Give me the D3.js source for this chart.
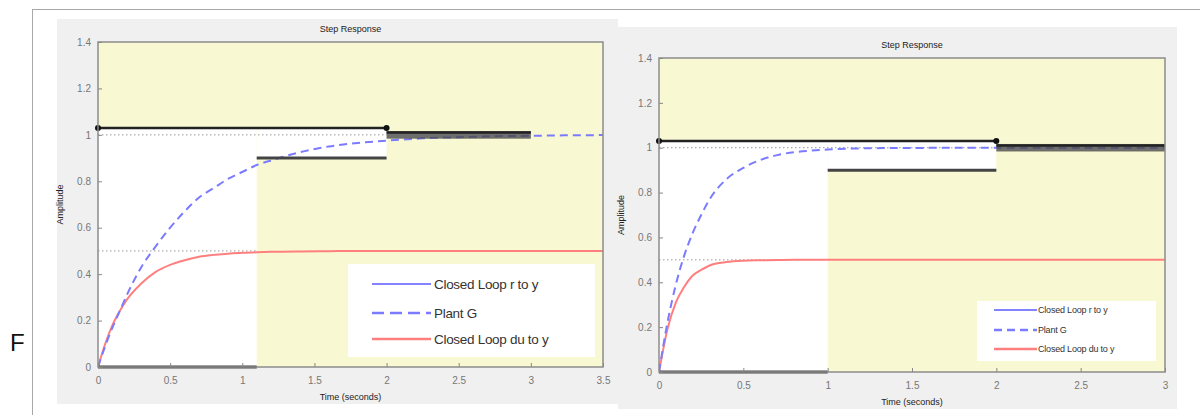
<!DOCTYPE html>
<html>
<head>
<meta charset="utf-8">
<script src="https://cdn.jsdelivr.net/npm/d3@7"></script>
<style>
  body { margin: 0; background: #fff; }
  svg { display: block; font-family: "Liberation Sans", Arial, sans-serif; }
</style>
</head>
<body>
<svg width="1200" height="415"></svg>
<script>
// ---- data ----
const leftTime  = [0, 0.05, 0.1, 0.15, 0.2, 0.3, 0.4, 0.5, 0.6, 0.7, 0.8, 0.9, 1.0, 1.1, 1.2, 1.4, 1.6, 1.8, 2.0, 2.25, 2.5, 2.75, 3.0, 3.25, 3.5];
const leftPlant = [0, 0.09, 0.17, 0.24, 0.31, 0.43, 0.52, 0.60, 0.67, 0.73, 0.77, 0.81, 0.84, 0.87, 0.89, 0.925, 0.95, 0.965, 0.975, 0.985, 0.99, 0.994, 0.996, 0.998, 0.999];
const leftDu    = [0, 0.10, 0.18, 0.24, 0.29, 0.36, 0.41, 0.44, 0.46, 0.475, 0.483, 0.488, 0.492, 0.494, 0.496, 0.498, 0.499, 0.5, 0.5, 0.5, 0.5, 0.5, 0.5, 0.5, 0.5];

const rightTime  = [0, 0.05, 0.1, 0.15, 0.2, 0.25, 0.3, 0.4, 0.5, 0.6, 0.7, 0.8, 0.9, 1.0, 1.2, 1.5, 2.0, 2.5, 3.0];
const rightPlant = [0, 0.22, 0.39, 0.52, 0.62, 0.70, 0.77, 0.86, 0.91, 0.945, 0.967, 0.98, 0.987, 0.992, 0.997, 0.999, 1, 1, 1];
const rightDu    = [0, 0.19, 0.31, 0.38, 0.43, 0.455, 0.475, 0.49, 0.496, 0.498, 0.499, 0.5, 0.5, 0.5, 0.5, 0.5, 0.5, 0.5, 0.5];

// design constraints: [t start, t end, value]
const leftUpper  = [[0, 2, 1.03], [2, 3, 1.01]];
const leftLower  = [[0, 1.1, 0], [1.1, 2, 0.9], [2, 3, 0.99]];
const rightUpper = [[0, 2, 1.03], [2, 3, 1.01]];
const rightLower = [[0, 1, 0], [1, 2, 0.9], [2, 3, 0.99]];

const leftXTicks  = [0, 0.5, 1, 1.5, 2, 2.5, 3, 3.5];
const rightXTicks = [0, 0.5, 1, 1.5, 2, 2.5, 3];
const yTicks = [0, 0.2, 0.4, 0.6, 0.8, 1, 1.2, 1.4];

const legendLabels = ["Closed Loop r to y", "Plant G", "Closed Loop du to y"];

const svg = d3.select("svg");

// outer frame and the stray letter
svg.append("line").attr("x1", 32).attr("x2", 1200).attr("y1", 9.5).attr("y2", 9.5)
    .attr("stroke", "#a8a8a8");
svg.append("line").attr("x1", 32.5).attr("x2", 32.5).attr("y1", 9).attr("y2", 415)
    .attr("stroke", "#a8a8a8");
svg.append("text").attr("x", 10).attr("y", 351).attr("font-size", 24).attr("fill", "#111")
    .attr("font-family", "Liberation Sans, Arial").text("F");

function drawPanel(cfg) {
    const g = svg.append("g");
    g.append("rect").attr("x", cfg.bg[0]).attr("y", cfg.bg[1])
        .attr("width", cfg.bg[2]).attr("height", cfg.bg[3]).attr("fill", "#f0f0f0");

    const x = d3.scaleLinear().domain([0, cfg.xmax]).range([cfg.left, cfg.right]);
    const y = d3.scaleLinear().domain([0, 1.4]).range([cfg.bottom, cfg.top]);

    const clipId = "clip" + cfg.id;
    g.append("clipPath").attr("id", clipId).append("rect")
        .attr("x", cfg.left).attr("y", cfg.top)
        .attr("width", cfg.right - cfg.left).attr("height", cfg.bottom - cfg.top);

    // yellow = forbidden, white = allowed
    g.append("rect").attr("x", cfg.left).attr("y", cfg.top)
        .attr("width", cfg.right - cfg.left).attr("height", cfg.bottom - cfg.top)
        .attr("fill", "#f8f8d2");
    cfg.lower.forEach(function(seg, i) {
        const up = cfg.upper.find(u => seg[0] >= u[0] && seg[0] < u[1]);
        g.append("rect").attr("x", x(seg[0])).attr("width", x(seg[1]) - x(seg[0]))
            .attr("y", y(up[2])).attr("height", y(seg[2]) - y(up[2]))
            .attr("fill", "#fff");
    });

    const plot = g.append("g").attr("clip-path", "url(#" + clipId + ")");

    // dotted steady-state markers
    plot.append("line").attr("x1", x(0)).attr("x2", x(2)).attr("y1", y(1)).attr("y2", y(1))
        .attr("stroke", "#999").attr("stroke-dasharray", "1.5,2.5");
    plot.append("line").attr("x1", x(0)).attr("x2", x(cfg.halfEnd)).attr("y1", y(0.5)).attr("y2", y(0.5))
        .attr("stroke", "#999").attr("stroke-dasharray", "1.5,2.5");

    const line = d3.line().x(d => x(d[0])).y(d => y(d[1])).curve(d3.curveMonotoneX);
    plot.append("path").datum(cfg.time.map((t, i) => [t, cfg.du[i]]))
        .attr("d", line).attr("fill", "none").attr("stroke", "#ff7f7f").attr("stroke-width", 2);
    plot.append("path").datum(cfg.time.map((t, i) => [t, cfg.plant[i]]))
        .attr("d", line).attr("fill", "none").attr("stroke", "#7b7bff")
        .attr("stroke-width", 2).attr("stroke-dasharray", "8,5");

    // constraint edges
    cfg.lower.forEach(function(seg) {
        const up = cfg.upper.find(u => seg[0] >= u[0] && seg[0] < u[1]);
        if (up[2] - seg[2] < 0.05) {
            g.append("rect").attr("x", x(seg[0])).attr("width", x(seg[1]) - x(seg[0]))
                .attr("y", y(up[2]) - 1.5).attr("height", y(seg[2]) - y(up[2]) + 3)
                .attr("fill", "#4a4a4a").attr("opacity", 0.8);
        } else {
            g.append("line").attr("x1", x(seg[0])).attr("x2", x(seg[1]))
                .attr("y1", y(seg[2])).attr("y2", y(seg[2]))
                .attr("stroke", "#444").attr("stroke-width", 3);
        }
    });
    cfg.upper.forEach(function(seg) {
        g.append("line").attr("x1", x(seg[0])).attr("x2", x(seg[1]))
            .attr("y1", y(seg[2])).attr("y2", y(seg[2]))
            .attr("stroke", "#222").attr("stroke-width", 2.5);
    });
    g.selectAll(".vertex" + cfg.id)
        .data([[cfg.upper[0][0], cfg.upper[0][2]], [cfg.upper[0][1], cfg.upper[0][2]]])
        .enter().append("circle").attr("class", "vertex" + cfg.id)
        .attr("cx", d => x(d[0])).attr("cy", d => y(d[1])).attr("r", 3).attr("fill", "#111");

    // axes box
    g.append("rect").attr("x", cfg.left).attr("y", cfg.top)
        .attr("width", cfg.right - cfg.left).attr("height", cfg.bottom - cfg.top)
        .attr("fill", "none").attr("stroke", "#8c8c8c").attr("stroke-width", 1.5);

    const xAxis = g.append("g").attr("transform", "translate(0," + cfg.bottom + ")")
        .call(d3.axisBottom(x).tickValues(cfg.xTicks).tickSize(-4).tickPadding(10)
            .tickFormat(d3.format("")));
    const yAxis = g.append("g").attr("transform", "translate(" + cfg.left + ",0)")
        .call(d3.axisLeft(y).tickValues(yTicks).tickSize(-4).tickPadding(7)
            .tickFormat(d3.format("")));
    [xAxis, yAxis].forEach(function(a) {
        a.select(".domain").remove();
        a.selectAll("line").attr("stroke", "#888");
        a.selectAll("text").attr("fill", "#777").attr("font-size", 10)
            .attr("font-family", "Liberation Sans, Arial");
    });

    g.append("text").attr("x", (cfg.left + cfg.right) / 2).attr("y", cfg.top - 10)
        .attr("text-anchor", "middle").attr("font-size", 9).attr("fill", "#222")
        .text("Step Response");
    g.append("text").attr("x", (cfg.left + cfg.right) / 2).attr("y", cfg.bottom + 33)
        .attr("text-anchor", "middle").attr("font-size", 9).attr("fill", "#222")
        .text("Time (seconds)");
    g.append("text").attr("transform", "translate(" + cfg.ylabX + "," + ((cfg.top + cfg.bottom) / 2) + ") rotate(-90)")
        .attr("text-anchor", "middle").attr("font-size", 9).attr("fill", "#222")
        .text("Amplitude");

    // legend
    const L = cfg.legend;
    const lg = g.append("g");
    lg.append("rect").attr("x", L.x).attr("y", L.y).attr("width", L.w).attr("height", L.h)
        .attr("fill", "#fff");
    const styles = [
        {stroke: "#5a5aff", dash: null, w: 1.5},
        {stroke: "#7b7bff", dash: L.dash, w: 2.5},
        {stroke: "#ff7f7f", dash: null, w: 2.5}
    ];
    legendLabels.forEach(function(label, i) {
        const yy = L.rows[i];
        lg.append("line").attr("x1", L.lx0).attr("x2", L.lx1).attr("y1", yy).attr("y2", yy)
            .attr("stroke", styles[i].stroke).attr("stroke-width", styles[i].w)
            .attr("stroke-dasharray", styles[i].dash);
        lg.append("text").attr("x", L.tx).attr("y", yy).attr("dy", "0.35em")
            .attr("font-size", L.fs).attr("fill", "#333").attr("letter-spacing", L.ls)
            .text(label);
    });
}

drawPanel({
    id: "L", bg: [57, 19, 561, 385],
    left: 98, right: 603, top: 42, bottom: 367, xmax: 3.5, ylabX: 63,
    time: leftTime, plant: leftPlant, du: leftDu,
    upper: leftUpper, lower: leftLower, xTicks: leftXTicks, halfEnd: 1.1,
    legend: {x: 348, y: 264, w: 247, h: 93, rows: [284, 313, 339], lx0: 372, lx1: 431,
             tx: 434, fs: 13.5, ls: -0.3, dash: "12,6"}
});
drawPanel({
    id: "R", bg: [618, 27, 559, 382],
    left: 659, right: 1165, top: 58, bottom: 372, xmax: 3, ylabX: 624,
    time: rightTime, plant: rightPlant, du: rightDu,
    upper: rightUpper, lower: rightLower, xTicks: rightXTicks, halfEnd: 1,
    legend: {x: 977, y: 301, w: 179, h: 60, rows: [310, 330, 349], lx0: 994, lx1: 1037,
             tx: 1038, fs: 9, ls: -0.2, dash: "8,5"}
});
</script>
</body>
</html>
